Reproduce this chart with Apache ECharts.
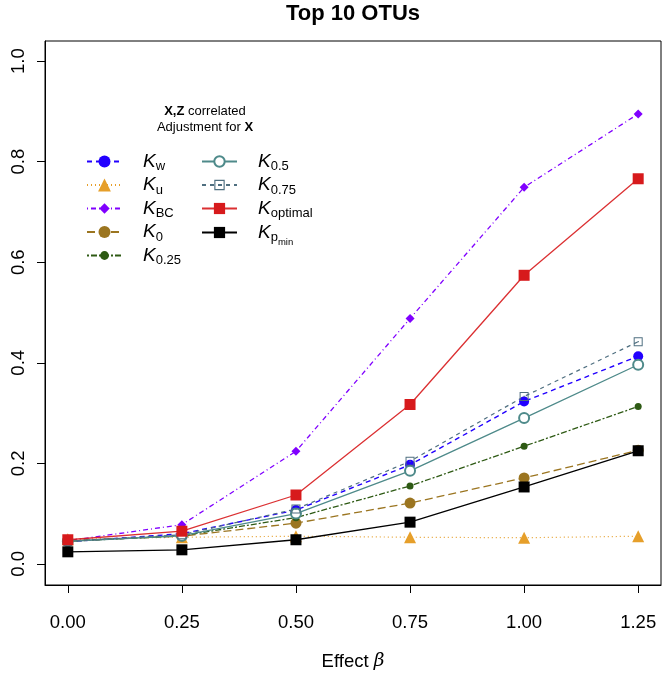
<!DOCTYPE html>
<html><head><meta charset="utf-8">
<script src="https://cdn.jsdelivr.net/npm/echarts@6/dist/echarts.min.js"></script>
<style>html,body{margin:0;padding:0;background:#fff}#c{width:662px;height:676px}</style>
</head><body><div id="c"></div>
<script>
// ---- data ----
const effect = [0, 0.25, 0.5, 0.75, 1.0, 1.25];
const xTicks = [0, 0.25, 0.5, 0.75, 1.0, 1.25];
const yTicks = [0, 0.2, 0.4, 0.6, 0.8, 1.0];
const Kw     = [0.044, 0.060, 0.107, 0.197, 0.323, 0.413];
const Ku     = [0.049, 0.053, 0.055, 0.053, 0.052, 0.055];
const KBC    = [0.046, 0.078, 0.224, 0.488, 0.749, 0.895];
const K0     = [0.046, 0.055, 0.081, 0.121, 0.171, 0.226];
const K025   = [0.045, 0.056, 0.092, 0.155, 0.234, 0.313];
const K05    = [0.045, 0.056, 0.100, 0.185, 0.290, 0.396];
const K075   = [0.045, 0.058, 0.109, 0.204, 0.333, 0.442];
const Kopt   = [0.048, 0.065, 0.137, 0.317, 0.574, 0.766];
const Kpmin  = [0.024, 0.028, 0.048, 0.083, 0.153, 0.225];
const seriesNames = ['Kw','Ku','KBC','K0','K0.25','K0.5','K0.75','Koptimal','Kpmin'];
const subLabels = {'Kw':'w','Ku':'u','KBC':'BC','K0':'0','K0.25':'0.25','K0.5':'0.5','K0.75':'0.75','Koptimal':'optimal','Kpmin':'p'};

const FONT = 'Liberation Sans, Arial, Helvetica, sans-serif';
const dotSquare = 'path://M0,0H10V10H0Z M1.1,1.1V8.9H8.9V1.1Z M4.3,4.3H5.7V5.7H4.3Z';

const styles = {
  'Kw':      {data: Kw,   color:'#2200ff', dash:[5,4],        w:1.4, symbol:'circle',  size:10, lh:15},
  'Ku':      {data: Ku,   color:'#e69f2a', dash:[1,3],        w:1.2, symbol:'triangle',size:12, lh:16},
  'KBC':     {data: KBC,  color:'#8000ff', dash:[1,3,5,3],    w:1.3, symbol:'diamond', size:9,  lh:13},
  'K0':      {data: K0,   color:'#9b7520', dash:[8,4],        w:1.3, symbol:'circle',  size:11, lh:15},
  'K0.25':   {data: K025, color:'#2e5a14', dash:[2,2,6,2],    w:1.3, symbol:'circle',  size:7,  lh:11},
  'K0.5':    {data: K05,  color:'#4e8a8a', dash:'solid',      w:1.3, symbol:'emptyCircle', size:10, lh:13},
  'K0.75':   {data: K075, color:'#4f6f80', dash:[4,4],        w:1.2, symbol:dotSquare, size:9,  lh:13},
  'Koptimal':{data: Kopt, color:'#d71a1c', dash:'solid',      w:1.3, symbol:'rect',    size:11, lh:14},
  'Kpmin':   {data: Kpmin,color:'#000000', dash:'solid',      w:1.3, symbol:'rect',    size:11, lh:14}
};

const series = seriesNames.map(n => {
  const s = styles[n];
  return {
    name: n, type: 'line',
    data: effect.map((x,i) => [x, s.data[i]]),
    symbol: s.symbol, symbolSize: s.size,
    itemStyle: {color: s.color, borderWidth: s.symbol==='emptyCircle'?1.3:0, opacity: 1},
    lineStyle: {color: s.color, width: s.w, type: s.dash, opacity: n==='Koptimal'?0.9:1},
    emphasis: {disabled: true},
    animation: false
  };
});

const rich = {
  k: {fontFamily: FONT, fontStyle:'italic', fontSize: 19, lineHeight: 22, color:'#000'},
  s: {fontFamily: FONT, fontSize: 13, lineHeight: 14, padding:[10,0,0,0], color:'#000'},
  m: {fontFamily: FONT, fontSize: 9.5, lineHeight: 10, padding:[20,0,0,0], color:'#000'}
};
function fmt(name){
  if (name === 'Kpmin') return '{k|K}{s|p}{m|min}';
  return '{k|K}{s|' + subLabels[name] + '}';
}
const col1 = ['Kw','Ku','KBC','K0','K0.25'];
const col2 = ['K0.5','K0.75','Koptimal','Kpmin'];
const rowY = [162, 185.5, 209, 232.5, 256];
const legends = [];
function addLegend(list, iconLeft){
  list.forEach((n, i) => {
    const s = styles[n];
    const blockH = n === 'Kpmin' ? 30 : 24;
    legends.push({
      data: [n], orient:'vertical', left: iconLeft, top: rowY[i] - blockH/2,
      padding: 0, itemWidth: 35, itemHeight: s.lh, itemGap: 0,
      selectedMode: false,
      formatter: fmt,
      textStyle: {rich: rich, padding:[0,0,0,16]}
    });
  });
}
addLegend(col1, 86);
addLegend(col2, 201);

const option = {
  backgroundColor: '#fff',
  animation: false,
  grid: {left: 45, top: 41, right: 1, bottom: 90, show: true, borderColor:'#000', borderWidth: 1, containLabel: false},
  xAxis: {
    type:'value', min:-0.05, max:1.30,
    axisLine:{show:true, onZero:false, lineStyle:{color:'#000', width:1}}, splitLine:{show:false},
    axisTick:{show:true, customValues: xTicks, length: 8, inside:false, lineStyle:{color:'#000', width:1}},
    axisLabel:{customValues: xTicks, formatter: v => v.toFixed(2), fontFamily: FONT, fontSize: 18.5, color:'#000', margin: 28},
    name: '{n|Effect }{b|β}', nameLocation:'middle', nameGap: 67,
    nameTextStyle: {rich: {n:{fontFamily: FONT, fontSize: 18.5, color:'#000'}, b:{fontFamily:'DejaVu Serif, serif', fontStyle:'italic', fontSize: 18.5, color:'#000'}}}
  },
  yAxis: {
    type:'value', min:-0.042, max:1.04,
    axisLine:{show:true, onZero:false, lineStyle:{color:'#000', width:1}}, splitLine:{show:false},
    axisTick:{show:true, customValues: yTicks, length: 8, inside:false, lineStyle:{color:'#000', width:1}},
    axisLabel:{customValues: yTicks, formatter: v => v.toFixed(1), rotate: 90, fontFamily: FONT, fontSize: 18.5, color:'#000', margin: 17}
  },
  legend: legends,
  graphic: [
    {type:'text', x: 353, y: 14, style:{text:'Top 10 OTUs', font:'bold 22px ' + FONT, fill:'#000', textAlign:'center', textVerticalAlign:'middle'}},
    {type:'text', x: 205, y: 103, style:{
      text:'{b|X,Z} correlated\nAdjustment for {b|X}', textAlign:'center', textVerticalAlign:'top',
      fontFamily: FONT, fontSize: 13, lineHeight: 16, fill:'#000',
      rich:{b:{fontFamily: FONT, fontSize:13, fontWeight:'bold', lineHeight:16, fill:'#000'}}
    }}
  ],
  series: series
};
const chart = echarts.init(document.getElementById('c'), null, {renderer:'canvas'});
chart.setOption(option);
</script></body></html>
